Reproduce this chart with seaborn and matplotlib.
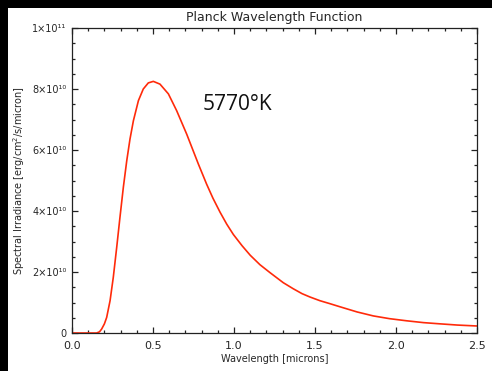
import numpy as np
import pandas as pd
import matplotlib
matplotlib.use("Agg")
import matplotlib.pyplot as plt
from matplotlib.ticker import MultipleLocator, FuncFormatter
from matplotlib.patches import Rectangle
import seaborn as sns

# Solar blackbody spectrum (T = 5770 K), wavelength in microns,
# irradiance in units of 1e10 erg/cm^2/s/micron
wavelength = [0.00, 0.10, 0.152, 0.17, 0.183, 0.20, 0.214, 0.235, 0.255, 0.276,
              0.296, 0.317, 0.338, 0.358, 0.379, 0.41, 0.44, 0.471, 0.502,
              0.543, 0.595, 0.646, 0.708, 0.78, 0.831, 0.87, 0.914, 0.955,
              0.996, 1.05, 1.10, 1.16, 1.222, 1.304, 1.366, 1.42, 1.469, 1.53,
              1.593, 1.654, 1.76, 1.86, 1.96, 2.066, 2.17, 2.272, 2.38, 2.50]
irradiance_e10 = [0.0, 0.0, 0.0, 0.04, 0.13, 0.30, 0.51, 1.06, 1.83, 2.81,
                  3.79, 4.78, 5.65, 6.36, 6.96, 7.62, 8.0, 8.2, 8.25,
                  8.16, 7.84, 7.29, 6.52, 5.54, 4.88, 4.42, 3.96, 3.57,
                  3.23, 2.86, 2.55, 2.24, 1.98, 1.65, 1.45, 1.29, 1.18, 1.06,
                  0.96, 0.86, 0.69, 0.56, 0.47, 0.40, 0.34, 0.30, 0.26, 0.23]

title = "Planck Wavelength Function"
x_label = "Wavelength [microns]"
y_label = "Spectral Irradiance [erg/cm$^2$/s/micron]"
temp_label = "5770°K"

df = pd.DataFrame({"wavelength": wavelength,
                   "irradiance": np.array(irradiance_e10) * 1e10})

sns.set_theme(style="ticks")
plt.rcParams["font.family"] = ["DejaVu Sans"]

fig = plt.figure(figsize=(4.92, 3.71), dpi=100)
fig.patch.set_facecolor("white")
ax = fig.add_axes([72 / 492, 38 / 371, 405 / 492, 305 / 371])

sns.lineplot(data=df, x="wavelength", y="irradiance", ax=ax,
             color="#ff2a0a", linewidth=1.2)

ax.set_xlim(0, 2.5)
ax.set_ylim(0, 1e11)
ax.xaxis.set_major_locator(MultipleLocator(0.5))
ax.xaxis.set_minor_locator(MultipleLocator(0.1))
ax.yaxis.set_major_locator(MultipleLocator(2e10))
ax.yaxis.set_minor_locator(MultipleLocator(5e9))
ax.xaxis.set_major_formatter(FuncFormatter(lambda v, p: f"{v:.1f}"))

sup = str.maketrans("0123456789", "⁰¹²³⁴⁵⁶⁷⁸⁹")


def sci(v, p):
    if v <= 0:
        return "0"
    e = int(np.floor(np.log10(v) + 1e-9))
    m = v / 10 ** e
    return f"{m:.0f}×10" + str(e).translate(sup)


ax.yaxis.set_major_formatter(FuncFormatter(sci))

ax.tick_params(which="both", direction="in", top=True, right=True,
               color="#222222", width=0.9)
ax.tick_params(which="major", length=4.5)
ax.tick_params(which="minor", length=2.5)
ax.tick_params(axis="x", which="major", labelsize=8, pad=6)
ax.tick_params(axis="y", which="major", labelsize=7, pad=4)
for s in ax.spines.values():
    s.set_color("#222222")
    s.set_linewidth(0.9)

ax.set_title(title, fontsize=9, pad=5)
ax.set_xlabel(x_label, fontsize=7, labelpad=2)
ax.set_ylabel(y_label, fontsize=7, labelpad=4)

ax.text(0.809, 7.5e10, temp_label, fontsize=15, family=["Open Sans", "DejaVu Sans"],
        ha="left", va="center", color="#111111")

# dark frame strips along the top and left edges
fig.patches.append(Rectangle((0, 1 - 8 / 371), 1, 8 / 371, transform=fig.transFigure,
                             facecolor="black", edgecolor="none", zorder=10))
fig.patches.append(Rectangle((0, 0), 8 / 492, 1, transform=fig.transFigure,
                             facecolor="black", edgecolor="none", zorder=10))

fig.savefig("out.png", dpi=100, facecolor="white")
